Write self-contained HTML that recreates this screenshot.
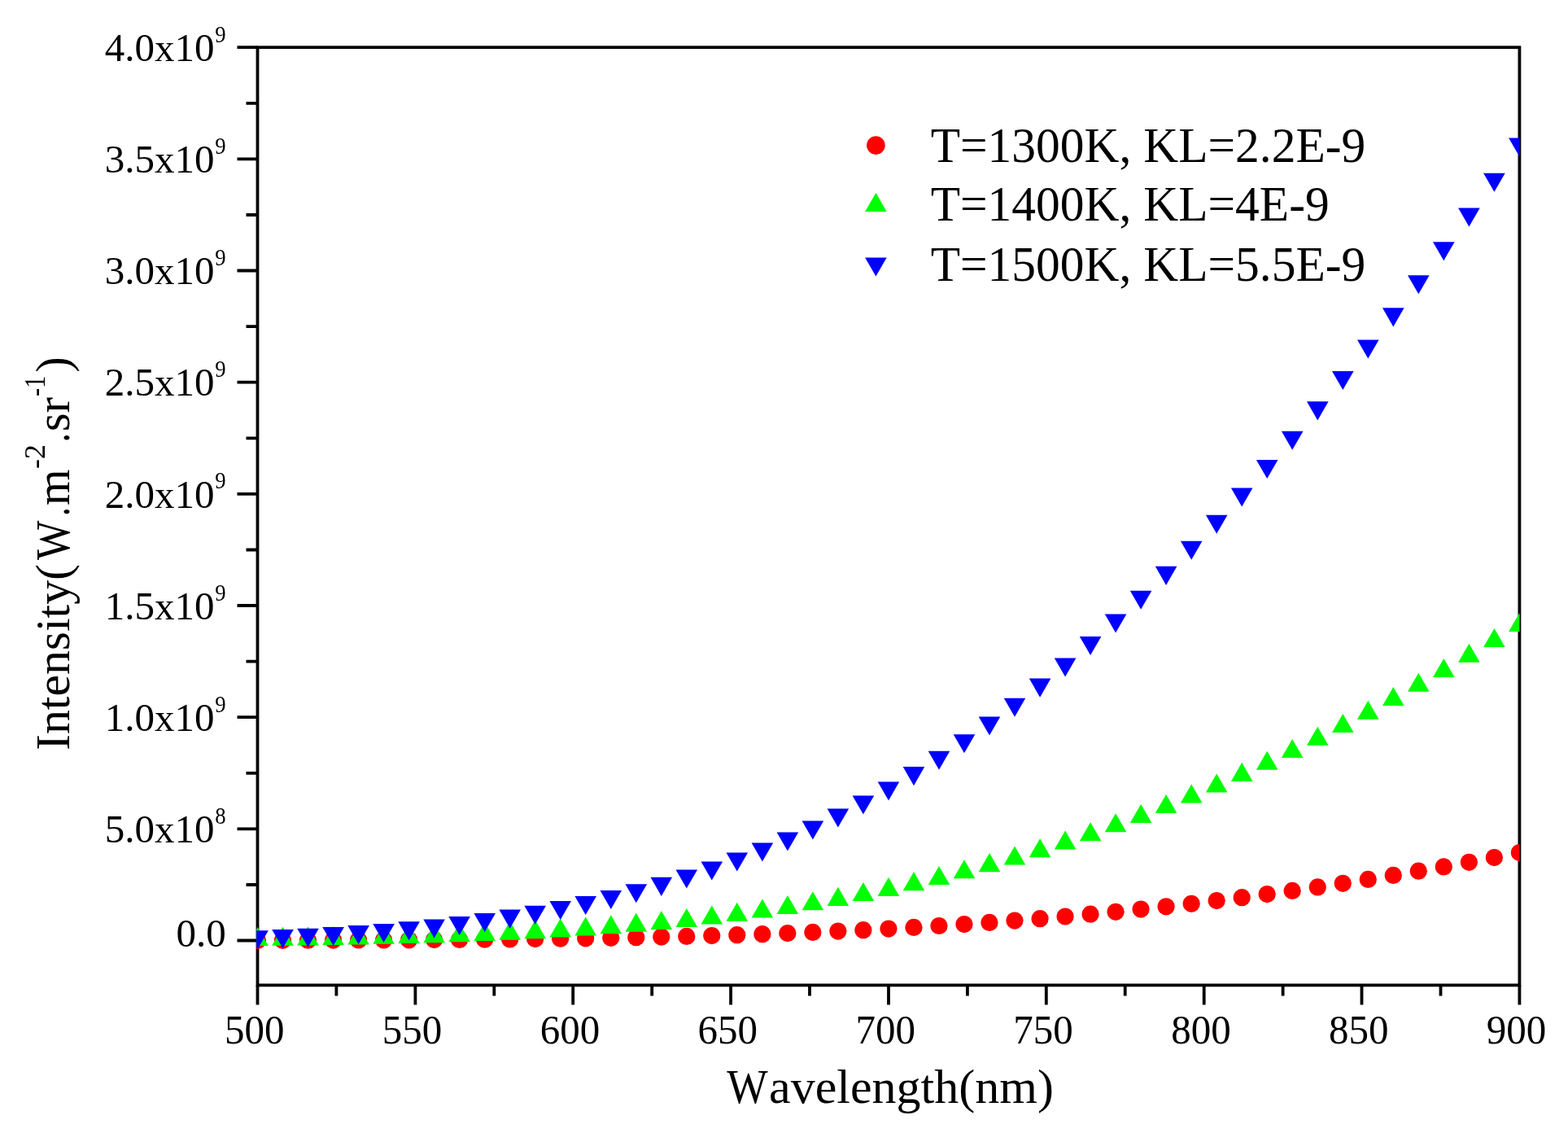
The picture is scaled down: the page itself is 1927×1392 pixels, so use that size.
<!DOCTYPE html>
<html><head><meta charset="utf-8"><title>Intensity vs Wavelength</title>
<style>
html,body{margin:0;padding:0;background:#fff;}
body{width:1927px;height:1392px;overflow:hidden;}
svg{display:block;}
text{font-family:'Liberation Serif', 'Times New Roman', serif;fill:#000;}
</style></head><body>
<svg width="1927" height="1392" viewBox="0 0 1927 1392">
<defs><clipPath id="pc"><rect x="315.2" y="57.0" width="1552.3" height="1154.6"/></clipPath></defs>
<rect x="0" y="0" width="1927" height="1392" fill="#fff"/>

<rect x="316.5" y="58.2" width="1550.9" height="1152.2" fill="none" stroke="#000" stroke-width="3.8"/>
<path d="M316.5,1210.4V1234.6M413.4,1210.4V1223.4M510.4,1210.4V1234.6M607.3,1210.4V1223.4M704.2,1210.4V1234.6M801.2,1210.4V1223.4M898.1,1210.4V1234.6M995.0,1210.4V1223.4M1092.0,1210.4V1234.6M1188.9,1210.4V1223.4M1285.8,1210.4V1234.6M1382.7,1210.4V1223.4M1479.7,1210.4V1234.6M1576.6,1210.4V1223.4M1673.5,1210.4V1234.6M1770.5,1210.4V1223.4M1867.4,1210.4V1234.6M316.5,1155.5H291.5M316.5,1087.0H302.5M316.5,1018.4H291.5M316.5,949.8H302.5M316.5,881.2H291.5M316.5,812.6H302.5M316.5,744.0H291.5M316.5,675.5H302.5M316.5,606.9H291.5M316.5,538.3H302.5M316.5,469.7H291.5M316.5,401.1H302.5M316.5,332.5H291.5M316.5,264.0H302.5M316.5,195.4H291.5M316.5,126.8H302.5M316.5,58.2H291.5" stroke="#000" stroke-width="3.8" fill="none"/>
<g clip-path="url(#pc)">
<g><circle cx="316.5" cy="1155.4" r="10.6" fill="#ff0000"/><circle cx="347.5" cy="1155.3" r="10.6" fill="#ff0000"/><circle cx="378.5" cy="1155.2" r="10.6" fill="#ff0000"/><circle cx="409.6" cy="1155.1" r="10.6" fill="#ff0000"/><circle cx="440.6" cy="1155.0" r="10.6" fill="#ff0000"/><circle cx="471.6" cy="1154.9" r="10.6" fill="#ff0000"/><circle cx="502.6" cy="1154.8" r="10.6" fill="#ff0000"/><circle cx="533.6" cy="1154.6" r="10.6" fill="#ff0000"/><circle cx="564.6" cy="1154.4" r="10.6" fill="#ff0000"/><circle cx="595.7" cy="1154.2" r="10.6" fill="#ff0000"/><circle cx="626.7" cy="1153.9" r="10.6" fill="#ff0000"/><circle cx="657.7" cy="1153.6" r="10.6" fill="#ff0000"/><circle cx="688.7" cy="1153.2" r="10.6" fill="#ff0000"/><circle cx="719.7" cy="1152.8" r="10.6" fill="#ff0000"/><circle cx="750.8" cy="1152.3" r="10.6" fill="#ff0000"/><circle cx="781.8" cy="1151.7" r="10.6" fill="#ff0000"/><circle cx="812.8" cy="1151.1" r="10.6" fill="#ff0000"/><circle cx="843.8" cy="1150.4" r="10.6" fill="#ff0000"/><circle cx="874.8" cy="1149.6" r="10.6" fill="#ff0000"/><circle cx="905.8" cy="1148.7" r="10.6" fill="#ff0000"/><circle cx="936.9" cy="1147.7" r="10.6" fill="#ff0000"/><circle cx="967.9" cy="1146.6" r="10.6" fill="#ff0000"/><circle cx="998.9" cy="1145.4" r="10.6" fill="#ff0000"/><circle cx="1029.9" cy="1144.1" r="10.6" fill="#ff0000"/><circle cx="1060.9" cy="1142.7" r="10.6" fill="#ff0000"/><circle cx="1092.0" cy="1141.1" r="10.6" fill="#ff0000"/><circle cx="1123.0" cy="1139.4" r="10.6" fill="#ff0000"/><circle cx="1154.0" cy="1137.5" r="10.6" fill="#ff0000"/><circle cx="1185.0" cy="1135.6" r="10.6" fill="#ff0000"/><circle cx="1216.0" cy="1133.4" r="10.6" fill="#ff0000"/><circle cx="1247.0" cy="1131.1" r="10.6" fill="#ff0000"/><circle cx="1278.1" cy="1128.7" r="10.6" fill="#ff0000"/><circle cx="1309.1" cy="1126.0" r="10.6" fill="#ff0000"/><circle cx="1340.1" cy="1123.2" r="10.6" fill="#ff0000"/><circle cx="1371.1" cy="1120.3" r="10.6" fill="#ff0000"/><circle cx="1402.1" cy="1117.1" r="10.6" fill="#ff0000"/><circle cx="1433.1" cy="1113.8" r="10.6" fill="#ff0000"/><circle cx="1464.2" cy="1110.3" r="10.6" fill="#ff0000"/><circle cx="1495.2" cy="1106.6" r="10.6" fill="#ff0000"/><circle cx="1526.2" cy="1102.7" r="10.6" fill="#ff0000"/><circle cx="1557.2" cy="1098.6" r="10.6" fill="#ff0000"/><circle cx="1588.2" cy="1094.4" r="10.6" fill="#ff0000"/><circle cx="1619.3" cy="1089.9" r="10.6" fill="#ff0000"/><circle cx="1650.3" cy="1085.3" r="10.6" fill="#ff0000"/><circle cx="1681.3" cy="1080.4" r="10.6" fill="#ff0000"/><circle cx="1712.3" cy="1075.4" r="10.6" fill="#ff0000"/><circle cx="1743.3" cy="1070.2" r="10.6" fill="#ff0000"/><circle cx="1774.3" cy="1064.9" r="10.6" fill="#ff0000"/><circle cx="1805.4" cy="1059.3" r="10.6" fill="#ff0000"/><circle cx="1836.4" cy="1053.6" r="10.6" fill="#ff0000"/><circle cx="1867.4" cy="1047.6" r="10.6" fill="#ff0000"/></g>
<g><polygon points="316.5,1139.1 329.8,1162.1 303.2,1162.1" fill="#00ff00"/><polygon points="347.5,1138.8 360.8,1161.8 334.2,1161.8" fill="#00ff00"/><polygon points="378.5,1138.4 391.8,1161.4 365.2,1161.4" fill="#00ff00"/><polygon points="409.6,1138.0 422.9,1161.0 396.3,1161.0" fill="#00ff00"/><polygon points="440.6,1137.4 453.9,1160.5 427.3,1160.5" fill="#00ff00"/><polygon points="471.6,1136.8 484.9,1159.8 458.3,1159.8" fill="#00ff00"/><polygon points="502.6,1136.1 515.9,1159.1 489.3,1159.1" fill="#00ff00"/><polygon points="533.6,1135.2 546.9,1158.2 520.3,1158.2" fill="#00ff00"/><polygon points="564.6,1134.2 577.9,1157.2 551.3,1157.2" fill="#00ff00"/><polygon points="595.7,1133.0 609.0,1156.1 582.4,1156.1" fill="#00ff00"/><polygon points="626.7,1131.7 640.0,1154.7 613.4,1154.7" fill="#00ff00"/><polygon points="657.7,1130.2 671.0,1153.2 644.4,1153.2" fill="#00ff00"/><polygon points="688.7,1128.4 702.0,1151.4 675.4,1151.4" fill="#00ff00"/><polygon points="719.7,1126.4 733.0,1149.5 706.4,1149.5" fill="#00ff00"/><polygon points="750.8,1124.2 764.1,1147.3 737.5,1147.3" fill="#00ff00"/><polygon points="781.8,1121.7 795.1,1144.8 768.5,1144.8" fill="#00ff00"/><polygon points="812.8,1119.0 826.1,1142.0 799.5,1142.0" fill="#00ff00"/><polygon points="843.8,1115.9 857.1,1138.9 830.5,1138.9" fill="#00ff00"/><polygon points="874.8,1112.5 888.1,1135.5 861.5,1135.5" fill="#00ff00"/><polygon points="905.8,1108.7 919.1,1131.7 892.5,1131.7" fill="#00ff00"/><polygon points="936.9,1104.6 950.2,1127.6 923.6,1127.6" fill="#00ff00"/><polygon points="967.9,1100.1 981.2,1123.1 954.6,1123.1" fill="#00ff00"/><polygon points="998.9,1095.2 1012.2,1118.2 985.6,1118.2" fill="#00ff00"/><polygon points="1029.9,1089.8 1043.2,1112.9 1016.6,1112.9" fill="#00ff00"/><polygon points="1060.9,1084.1 1074.2,1107.1 1047.6,1107.1" fill="#00ff00"/><polygon points="1092.0,1077.8 1105.2,1100.9 1078.7,1100.9" fill="#00ff00"/><polygon points="1123.0,1071.1 1136.3,1094.2 1109.7,1094.2" fill="#00ff00"/><polygon points="1154.0,1064.0 1167.3,1087.0 1140.7,1087.0" fill="#00ff00"/><polygon points="1185.0,1056.3 1198.3,1079.3 1171.7,1079.3" fill="#00ff00"/><polygon points="1216.0,1048.1 1229.3,1071.2 1202.7,1071.2" fill="#00ff00"/><polygon points="1247.0,1039.4 1260.3,1062.5 1233.7,1062.5" fill="#00ff00"/><polygon points="1278.1,1030.2 1291.4,1053.2 1264.8,1053.2" fill="#00ff00"/><polygon points="1309.1,1020.5 1322.4,1043.5 1295.8,1043.5" fill="#00ff00"/><polygon points="1340.1,1010.2 1353.4,1033.2 1326.8,1033.2" fill="#00ff00"/><polygon points="1371.1,999.3 1384.4,1022.3 1357.8,1022.3" fill="#00ff00"/><polygon points="1402.1,987.9 1415.4,1011.0 1388.8,1011.0" fill="#00ff00"/><polygon points="1433.1,976.0 1446.4,999.0 1419.8,999.0" fill="#00ff00"/><polygon points="1464.2,963.5 1477.5,986.5 1450.9,986.5" fill="#00ff00"/><polygon points="1495.2,950.4 1508.5,973.5 1481.9,973.5" fill="#00ff00"/><polygon points="1526.2,936.8 1539.5,959.9 1512.9,959.9" fill="#00ff00"/><polygon points="1557.2,922.7 1570.5,945.7 1543.9,945.7" fill="#00ff00"/><polygon points="1588.2,908.0 1601.5,931.0 1574.9,931.0" fill="#00ff00"/><polygon points="1619.3,892.8 1632.6,915.8 1606.0,915.8" fill="#00ff00"/><polygon points="1650.3,877.0 1663.6,900.1 1637.0,900.1" fill="#00ff00"/><polygon points="1681.3,860.8 1694.6,883.8 1668.0,883.8" fill="#00ff00"/><polygon points="1712.3,844.0 1725.6,867.0 1699.0,867.0" fill="#00ff00"/><polygon points="1743.3,826.7 1756.6,849.8 1730.0,849.8" fill="#00ff00"/><polygon points="1774.3,809.0 1787.6,832.0 1761.0,832.0" fill="#00ff00"/><polygon points="1805.4,790.8 1818.7,813.8 1792.1,813.8" fill="#00ff00"/><polygon points="1836.4,772.1 1849.7,795.1 1823.1,795.1" fill="#00ff00"/><polygon points="1867.4,753.0 1880.7,776.0 1854.1,776.0" fill="#00ff00"/></g>
<g><polygon points="303.2,1143.2 329.8,1143.2 316.5,1166.2" fill="#0000ff"/><polygon points="334.2,1142.0 360.8,1142.0 347.5,1165.1" fill="#0000ff"/><polygon points="365.2,1140.7 391.8,1140.7 378.5,1163.7" fill="#0000ff"/><polygon points="396.3,1139.1 422.9,1139.1 409.6,1162.1" fill="#0000ff"/><polygon points="427.3,1137.1 453.9,1137.1 440.6,1160.2" fill="#0000ff"/><polygon points="458.3,1134.9 484.9,1134.9 471.6,1158.0" fill="#0000ff"/><polygon points="489.3,1132.3 515.9,1132.3 502.6,1155.4" fill="#0000ff"/><polygon points="520.3,1129.4 546.9,1129.4 533.6,1152.4" fill="#0000ff"/><polygon points="551.3,1125.9 577.9,1125.9 564.6,1149.0" fill="#0000ff"/><polygon points="582.4,1122.1 609.0,1122.1 595.7,1145.1" fill="#0000ff"/><polygon points="613.4,1117.6 640.0,1117.6 626.7,1140.7" fill="#0000ff"/><polygon points="644.4,1112.7 671.0,1112.7 657.7,1135.7" fill="#0000ff"/><polygon points="675.4,1107.1 702.0,1107.1 688.7,1130.1" fill="#0000ff"/><polygon points="706.4,1100.9 733.0,1100.9 719.7,1123.9" fill="#0000ff"/><polygon points="737.5,1093.9 764.1,1093.9 750.8,1117.0" fill="#0000ff"/><polygon points="768.5,1086.3 795.1,1086.3 781.8,1109.3" fill="#0000ff"/><polygon points="799.5,1077.8 826.1,1077.8 812.8,1100.9" fill="#0000ff"/><polygon points="830.5,1068.6 857.1,1068.6 843.8,1091.6" fill="#0000ff"/><polygon points="861.5,1058.5 888.1,1058.5 874.8,1081.5" fill="#0000ff"/><polygon points="892.5,1047.4 919.1,1047.4 905.8,1070.5" fill="#0000ff"/><polygon points="923.6,1035.5 950.2,1035.5 936.9,1058.5" fill="#0000ff"/><polygon points="954.6,1022.5 981.2,1022.5 967.9,1045.6" fill="#0000ff"/><polygon points="985.6,1008.6 1012.2,1008.6 998.9,1031.6" fill="#0000ff"/><polygon points="1016.6,993.6 1043.2,993.6 1029.9,1016.6" fill="#0000ff"/><polygon points="1047.6,977.5 1074.2,977.5 1060.9,1000.6" fill="#0000ff"/><polygon points="1078.7,960.4 1105.2,960.4 1092.0,983.4" fill="#0000ff"/><polygon points="1109.7,942.1 1136.3,942.1 1123.0,965.2" fill="#0000ff"/><polygon points="1140.7,922.8 1167.3,922.8 1154.0,945.8" fill="#0000ff"/><polygon points="1171.7,902.2 1198.3,902.2 1185.0,925.3" fill="#0000ff"/><polygon points="1202.7,880.5 1229.3,880.5 1216.0,903.6" fill="#0000ff"/><polygon points="1233.7,857.7 1260.3,857.7 1247.0,880.7" fill="#0000ff"/><polygon points="1264.8,833.6 1291.4,833.6 1278.1,856.7" fill="#0000ff"/><polygon points="1295.8,808.4 1322.4,808.4 1309.1,831.4" fill="#0000ff"/><polygon points="1326.8,782.0 1353.4,782.0 1340.1,805.0" fill="#0000ff"/><polygon points="1357.8,754.4 1384.4,754.4 1371.1,777.5" fill="#0000ff"/><polygon points="1388.8,725.7 1415.4,725.7 1402.1,748.7" fill="#0000ff"/><polygon points="1419.8,695.8 1446.4,695.8 1433.1,718.9" fill="#0000ff"/><polygon points="1450.9,664.8 1477.5,664.8 1464.2,687.8" fill="#0000ff"/><polygon points="1481.9,632.7 1508.5,632.7 1495.2,655.7" fill="#0000ff"/><polygon points="1512.9,599.4 1539.5,599.4 1526.2,622.5" fill="#0000ff"/><polygon points="1543.9,565.1 1570.5,565.1 1557.2,588.1" fill="#0000ff"/><polygon points="1574.9,529.7 1601.5,529.7 1588.2,552.8" fill="#0000ff"/><polygon points="1606.0,493.3 1632.6,493.3 1619.3,516.4" fill="#0000ff"/><polygon points="1637.0,455.9 1663.6,455.9 1650.3,479.0" fill="#0000ff"/><polygon points="1668.0,417.6 1694.6,417.6 1681.3,440.6" fill="#0000ff"/><polygon points="1699.0,378.3 1725.6,378.3 1712.3,401.4" fill="#0000ff"/><polygon points="1730.0,338.2 1756.6,338.2 1743.3,361.2" fill="#0000ff"/><polygon points="1761.0,297.2 1787.6,297.2 1774.3,320.2" fill="#0000ff"/><polygon points="1792.1,255.4 1818.7,255.4 1805.4,278.4" fill="#0000ff"/><polygon points="1823.1,212.8 1849.7,212.8 1836.4,235.8" fill="#0000ff"/><polygon points="1854.1,169.5 1880.7,169.5 1867.4,192.5" fill="#0000ff"/></g>
</g>
<text transform="translate(312.7,1281.6) scale(0.98,1)" font-size="50" text-anchor="middle">500</text>
<text transform="translate(506.6,1281.6) scale(0.98,1)" font-size="50" text-anchor="middle">550</text>
<text transform="translate(700.4,1281.6) scale(0.98,1)" font-size="50" text-anchor="middle">600</text>
<text transform="translate(894.3,1281.6) scale(0.98,1)" font-size="50" text-anchor="middle">650</text>
<text transform="translate(1088.2,1281.6) scale(0.98,1)" font-size="50" text-anchor="middle">700</text>
<text transform="translate(1282.0,1281.6) scale(0.98,1)" font-size="50" text-anchor="middle">750</text>
<text transform="translate(1475.9,1281.6) scale(0.98,1)" font-size="50" text-anchor="middle">800</text>
<text transform="translate(1669.7,1281.6) scale(0.98,1)" font-size="50" text-anchor="middle">850</text>
<text transform="translate(1863.6,1281.6) scale(0.98,1)" font-size="50" text-anchor="middle">900</text>
<text x="277.8" y="1163.2" font-size="49" text-anchor="end">0.0</text>
<text x="263.5" y="1035.1" font-size="49" text-anchor="end">5.0x10</text>
<text transform="translate(264.2,1011.9) scale(0.89,1)" font-size="30">8</text>
<text x="263.5" y="897.9" font-size="49" text-anchor="end">1.0x10</text>
<text transform="translate(264.2,874.7) scale(0.89,1)" font-size="30">9</text>
<text x="263.5" y="760.7" font-size="49" text-anchor="end">1.5x10</text>
<text transform="translate(264.2,737.5) scale(0.89,1)" font-size="30">9</text>
<text x="263.5" y="623.6" font-size="49" text-anchor="end">2.0x10</text>
<text transform="translate(264.2,600.4) scale(0.89,1)" font-size="30">9</text>
<text x="263.5" y="486.4" font-size="49" text-anchor="end">2.5x10</text>
<text transform="translate(264.2,463.2) scale(0.89,1)" font-size="30">9</text>
<text x="263.5" y="349.2" font-size="49" text-anchor="end">3.0x10</text>
<text transform="translate(264.2,326.0) scale(0.89,1)" font-size="30">9</text>
<text x="263.5" y="212.1" font-size="49" text-anchor="end">3.5x10</text>
<text transform="translate(264.2,188.9) scale(0.89,1)" font-size="30">9</text>
<text x="263.5" y="74.9" font-size="49" text-anchor="end">4.0x10</text>
<text transform="translate(264.2,51.7) scale(0.89,1)" font-size="30">9</text>
<text transform="translate(893.3,1355.4) scale(0.89,1)" font-size="60">W</text>
<text x="945.0" y="1355.4" font-size="60">avelength(nm)</text>
<g>
<text transform="translate(85.3,919.8) rotate(-90) scale(0.9954,1)" x="-2.16" y="0" font-size="60">Intensity(</text>
<text transform="translate(85.3,687.9) rotate(-90) scale(0.8546,1)" x="-0.06" y="0" font-size="60">W</text>
<text transform="translate(85.3,631.2) rotate(-90) scale(0.7407,1)" x="-3.96" y="0" font-size="60">.</text>
<text transform="translate(85.3,619.7) rotate(-90) scale(0.9527,1)" x="-1.26" y="0" font-size="60">m</text>
<text transform="translate(55.2,574.7) rotate(-90) scale(1.0232,1)" x="-1.29" y="0" font-size="35">-2</text>
<text transform="translate(85.3,540.7) rotate(-90) scale(0.7977,1)" x="-3.96" y="0" font-size="60">.</text>
<text transform="translate(85.3,527.9) rotate(-90) scale(0.9811,1)" x="-2.46" y="0" font-size="60">sr</text>
<text transform="translate(55.2,486.0) rotate(-90) scale(0.8746,1)" x="-1.29" y="0" font-size="35">-1</text>
<text transform="translate(85.3,455.6) rotate(-90) scale(0.9570,1)" x="-1.92" y="0" font-size="60">)</text>
</g>
<circle cx="1076.4" cy="178.6" r="11.3" fill="#ff0000"/>
<polygon points="1076.4,236.9 1089.7,259.9 1063.1,259.9" fill="#00ff00"/>
<polygon points="1063.1,316.4 1089.7,316.4 1076.4,339.4" fill="#0000ff"/>
<text transform="translate(1143.7,199.2) scale(0.9722,1)" font-size="61.2">T=1300K, KL=2.2E-9</text>
<text transform="translate(1143.7,271.0) scale(0.9722,1)" font-size="61.2">T=1400K, KL=4E-9</text>
<text transform="translate(1143.7,344.7) scale(0.9722,1)" font-size="61.2">T=1500K, KL=5.5E-9</text>
</svg></body></html>
